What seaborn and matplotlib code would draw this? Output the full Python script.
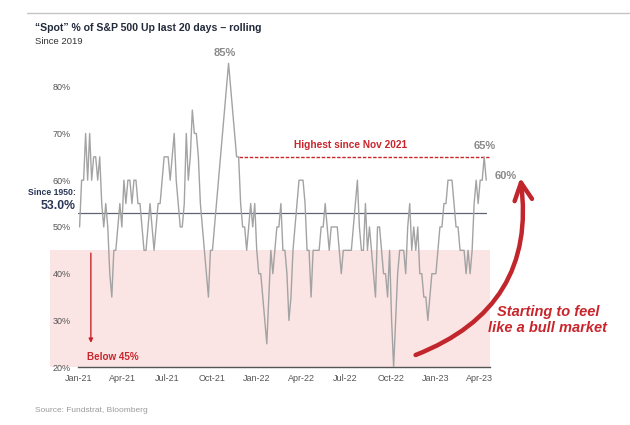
import pandas as pd
import numpy as np
import seaborn as sns
import matplotlib.pyplot as plt
from matplotlib.patches import FancyArrowPatch

# "Spot" % of S&P 500 stocks up over the last 20 days (roughly every 4 days)
pct_up = [50, 60, 60, 70, 60, 70, 60, 65, 65, 60, 65, 55, 50, 55, 50, 40, 35, 45, 45, 50,
          55, 50, 60, 55, 60, 60, 55, 60, 60, 55, 55, 50, 45, 45, 50, 55, 50, 45, 50, 55,
          55, 60, 65, 65, 65, 60, 65, 70, 60, 55, 50, 50, 55, 70, 60, 65, 75, 70, 70, 65,
          55, 50, 45, 40, 35, 45, 45, 50, 55, 60, 65, 70, 75, 80, 85, 80, 75, 70, 65, 65,
          55, 50, 50, 45, 50, 55, 50, 55, 45, 40, 40, 35, 30, 25, 35, 45, 40, 45, 50, 50,
          55, 45, 45, 40, 30, 35, 45, 50, 55, 60, 60, 60, 55, 45, 45, 35, 45, 45, 45, 45,
          50, 50, 55, 50, 45, 50, 50, 50, 50, 45, 40, 45, 45, 45, 45, 45, 50, 55, 60, 50,
          45, 45, 55, 45, 50, 45, 40, 35, 50, 50, 45, 40, 40, 35, 45, 30, 20, 30, 40, 45,
          45, 45, 40, 50, 55, 45, 50, 45, 50, 40, 40, 35, 35, 30, 35, 40, 40, 40, 45, 50,
          50, 55, 55, 60, 60, 60, 55, 50, 50, 45, 45, 45, 40, 45, 40, 45, 55, 60, 55, 60,
          60, 65, 60]
start_date = "2021-01-04"
end_date = "2023-04-14"

since_1950 = 53.0
below_level = 45
highest_level = 65
highest_from = "2021-11-25"
peak_label = "85%"
peak_date = "2021-10-28"
last_high_label = "65%"
last_label = "60%"

tick_dates = pd.date_range("2021-01-01", "2023-04-01", freq="QS")
tick_labels = [d.strftime("%b-%y") for d in tick_dates]
y_ticks = [20, 30, 40, 50, 60, 70, 80]

df = pd.DataFrame({
    "date": pd.date_range(start_date, end_date, periods=len(pct_up)),
    "pct": pct_up,
})

sns.set_style("white")
plt.rcParams["font.family"] = ["Liberation Sans", "DejaVu Sans"]

red = "#c8262c"
navy = "#2b3656"

fig = plt.figure(figsize=(6.3, 4.25), dpi=100)
ax = fig.add_axes([0.124, 0.136, 0.654, 0.748])

# shaded "below 45%" zone, running left under the tick labels
ax.axhspan(20, below_level, xmin=-0.068, xmax=1.0, color="#fbe4e4", lw=0, clip_on=False, zorder=0)

ax.axhline(since_1950, xmin=0, xmax=0.99, color="#5d6373", lw=0.9, zorder=1)

sns.lineplot(data=df, x="date", y="pct", color="#a3a3a3", lw=1.0, ax=ax, zorder=3)

ax.hlines(highest_level, pd.Timestamp(highest_from), pd.Timestamp("2023-04-19"),
          colors=red, linestyles=(0, (2.5, 1.2)), lw=1.0, zorder=2)

ax.set_xlim(pd.Timestamp("2021-01-01"), pd.Timestamp("2023-04-22"))
ax.set_ylim(20, 88)
ax.set_xticks(tick_dates)
ax.set_xticklabels(tick_labels)
ax.set_yticks(y_ticks)
ax.set_yticklabels([f"{v}%" for v in y_ticks])
ax.tick_params(axis="both", length=0, labelsize=6.5, colors="#555555")
ax.tick_params(axis="y", pad=5.5)
ax.tick_params(axis="x", pad=5)
ax.set_xlabel("")
ax.set_ylabel("")
for side in ["top", "right", "left"]:
    ax.spines[side].set_visible(False)
ax.spines["bottom"].set_color("#555555")
ax.spines["bottom"].set_linewidth(1.0)

# annotations on the data
ax.text(pd.Timestamp(peak_date), 87.3, peak_label, ha="center", va="center",
        fontsize=8, color="#8a8a8a", fontweight="bold")
ax.text(pd.Timestamp("2023-04-10"), 67.3, last_high_label, ha="center", va="center",
        fontsize=8, color="#8a8a8a", fontweight="bold")
ax.text(pd.Timestamp("2023-05-01"), 60.8, last_label, ha="left", va="center",
        fontsize=8, color="#8a8a8a", fontweight="bold")
ax.text(pd.Timestamp("2022-07-12"), 67.6, "Highest since Nov 2021", ha="center", va="center",
        fontsize=7.3, color=red, fontweight="bold")

ax.annotate("", xy=(pd.Timestamp("2021-01-27"), 24.6), xytext=(pd.Timestamp("2021-01-27"), below_level),
            arrowprops=dict(arrowstyle="-|>", color=red, lw=1.0, mutation_scale=6))
ax.text(pd.Timestamp("2021-01-20"), 22.2, "Below 45%", ha="left", va="center",
        fontsize=7.1, color=red, fontweight="bold")

ax.text(-0.006, 57.3, "Since 1950:", transform=ax.get_yaxis_transform(), ha="right", va="center",
        fontsize=6.2, color=navy, fontweight="bold")
ax.text(-0.006, 54.5, f"{since_1950:.1f}%", transform=ax.get_yaxis_transform(), ha="right", va="center",
        fontsize=8.8, color=navy, fontweight="bold")

# big curved arrow on the right
arrow = FancyArrowPatch((413 / 630, 1 - 356 / 425), (520 / 630, 1 - 175 / 425),
                        transform=fig.transFigure, connectionstyle="arc3,rad=0.4",
                        arrowstyle="->,head_length=0.7,head_width=0.35", color="#c0262c",
                        lw=3.2, mutation_scale=18, capstyle="round", joinstyle="round", zorder=5)
fig.patches.append(arrow)
fig.text(548 / 630, 1 - 320 / 425, "Starting to feel\nlike a bull market", ha="center", va="center",
         fontsize=10.5, color=red, fontweight="bold", style="italic", linespacing=1.15)

# title block and source
fig.add_artist(plt.Line2D([27 / 630, 1.0], [1 - 13 / 425, 1 - 13 / 425], color="#c4c4c4", lw=1.0))
fig.text(35 / 630, 1 - 28 / 425, "\u201cSpot\u201d % of S&P 500 Up last 20 days \u2013 rolling",
         ha="left", va="center", fontsize=7.6, color="#222a3c", fontweight="bold")
fig.text(35 / 630, 1 - 42 / 425, "Since 2019", ha="left", va="center", fontsize=6.8, color="#333333")
fig.text(35 / 630, 1 - 410 / 425, "Source: Fundstrat, Bloomberg", ha="left", va="center",
         fontsize=6, color="#9a9a9a")

fig.savefig("out.png", dpi=100)
